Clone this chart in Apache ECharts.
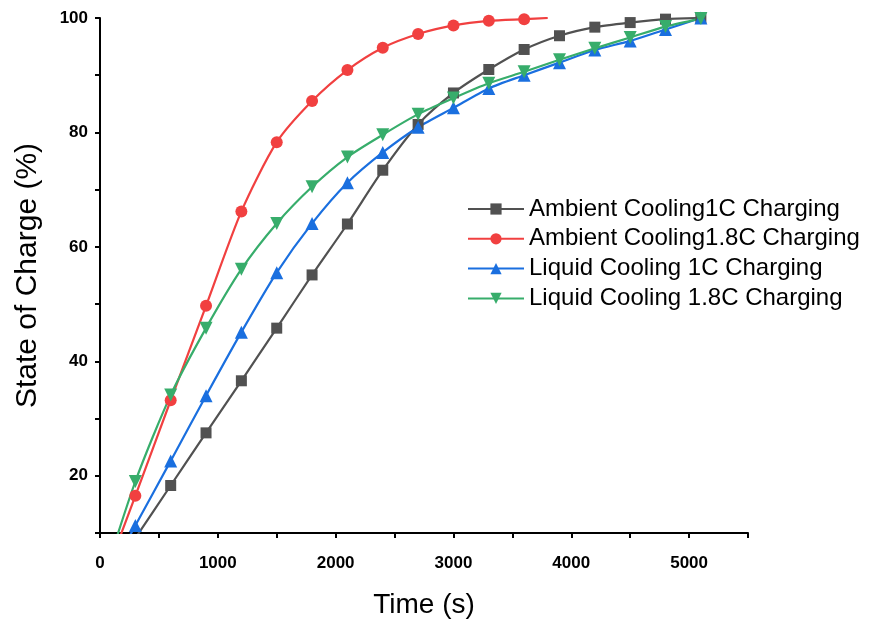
<!DOCTYPE html>
<html>
<head>
<meta charset="utf-8">
<script src="https://cdn.jsdelivr.net/npm/echarts@6/dist/echarts.min.js"></script>
<style>
html,body{margin:0;padding:0;background:#fff;}
#chart{width:869px;height:620px;}
</style>
</head>
<body>
<div id="chart"></div>
<script>
const seriesNames = [
  'Ambient Cooling1C Charging',
  'Ambient Cooling1.8C Charging',
  'Liquid Cooling 1C Charging',
  'Liquid Cooling 1.8C Charging'
];
const times = [0,300,600,900,1200,1500,1800,2100,2400,2700,3000,3300,3600,3900,4200,4500,4800,5100];
const ambient1C   = [0, 9.1, 18.3, 27.5, 36.6, 45.8, 55.1, 64.0, 73.4, 81.4, 86.9, 91.0, 94.5, 96.9, 98.4, 99.2, 99.8, 100];
const ambient18CTimes = [0,300,600,900,1200,1500,1800,2100,2400,2700,3000,3300,3600,3800];
const ambient18C  = [0, 16.5, 33.2, 49.7, 66.2, 78.3, 85.5, 90.9, 94.8, 97.2, 98.7, 99.5, 99.8, 100];
const liquid1C    = [0, 11.3, 22.6, 34.0, 45.1, 55.5, 64.1, 71.2, 76.5, 80.9, 84.3, 87.7, 90.0, 92.2, 94.4, 96.0, 98.0, 100];
const liquid18C   = [0, 19.0, 34.1, 45.8, 56.1, 64.1, 70.5, 75.7, 79.6, 83.2, 86.0, 88.6, 90.6, 92.7, 94.7, 96.6, 98.5, 99.9];
const xTickLabels = ['0','1000','2000','3000','4000','5000'];
const yTickLabels = ['20','40','60','80','100'];
const colors = ['#515151','#F14040','#1A6FDF','#37AD6B'];

function pairs(xs, ys, noSymbolIdx) {
  return ys.map((y, i) => {
    const item = { value: [xs[i], y] };
    if (noSymbolIdx.includes(i)) item.symbol = 'none';
    return item;
  });
}

const chart = echarts.init(document.getElementById('chart'));
const mkSeries = (name, data, color, symbol, size, rotate) => ({
  name, type: 'line', data, smooth: 0.25,
  symbol, symbolSize: size, symbolRotate: rotate || 0,
  clip: true, z: 2,
  lineStyle: { color, width: 2.2 },
  itemStyle: { color }
});

chart.setOption({
  animation: false,
  color: colors,
  grid: { left: 100, right: 121, top: 18, bottom: 87, containLabel: false, outerBoundsMode: 'none' },
  legend: {
    orient: 'vertical', left: 467, top: 195, padding: 0,
    itemWidth: 56, itemHeight: 14, itemGap: 1.8,
    textStyle: { fontFamily: 'Liberation Sans, Arial', fontSize: 24, color: '#000', lineHeight: 28 },
    data: seriesNames
  },
  xAxis: {
    type: 'value', min: 0, max: 5500, interval: 500,
    name: 'Time (s)', nameLocation: 'middle', nameGap: 58,
    nameTextStyle: { fontFamily: 'Liberation Sans, Arial', fontSize: 28, color: '#000' },
    axisLine: { show: true, onZero: false, lineStyle: { color: '#000', width: 2 } },
    axisTick: { show: true, inside: false, length: 5, lineStyle: { color: '#000', width: 2 } },
    axisLabel: {
      margin: 22, fontFamily: 'Liberation Sans, Arial', fontWeight: 'bold', fontSize: 17, color: '#000',
      formatter: v => xTickLabels.includes(String(v)) ? String(v) : ''
    },
    splitLine: { show: false }
  },
  yAxis: {
    type: 'value', min: 10, max: 100, interval: 10,
    name: 'State of Charge (%)', nameLocation: 'middle', nameGap: 57,
    nameTextStyle: { fontFamily: 'Liberation Sans, Arial', fontSize: 30, color: '#000' },
    axisLine: { show: true, onZero: false, lineStyle: { color: '#000', width: 2 } },
    axisTick: { show: true, inside: false, length: 5, lineStyle: { color: '#000', width: 2 } },
    axisLabel: {
      margin: 12, fontFamily: 'Liberation Sans, Arial', fontWeight: 'bold', fontSize: 17, color: '#000',
      formatter: v => yTickLabels.includes(String(v)) ? String(v) : ''
    },
    splitLine: { show: false }
  },
  series: [
    mkSeries(seriesNames[0], pairs(times, ambient1C, [0]), colors[0], 'rect', 11),
    mkSeries(seriesNames[1], pairs(ambient18CTimes, ambient18C, [0, 13]), colors[1], 'circle', 12),
    mkSeries(seriesNames[2], pairs(times, liquid1C, [0]), colors[2], 'triangle', 13),
    mkSeries(seriesNames[3], pairs(times, liquid18C, [0]), colors[3], 'triangle', 13, 180)
  ]
});
</script>
</body>
</html>
